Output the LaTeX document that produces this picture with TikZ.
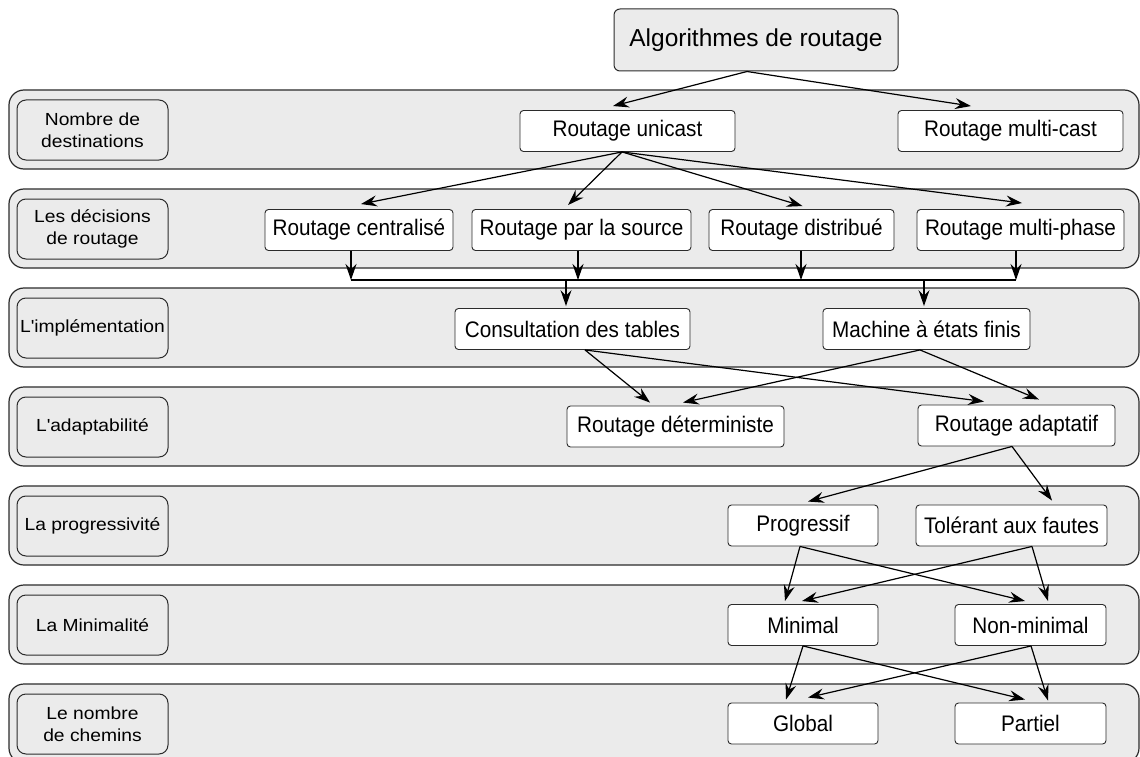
\documentclass[tikz,border=0pt]{standalone}
\usepackage{fontspec}
\setmainfont{Liberation Sans}
\newfontfamily\boxfont[FakeStretch=0.92]{Liberation Sans}
\newfontfamily\tagfont[FakeStretch=1.1]{Liberation Sans}
\usetikzlibrary{arrows.meta}
\definecolor{bandfill}{HTML}{EBEBEB}
\definecolor{edge}{HTML}{2B2B2B}
\begin{document}
\begin{tikzpicture}[x=1pt,y=-1pt,
  band/.style={draw=edge, line width=1.2pt, fill=bandfill, rounded corners=15pt},
  tag/.style={draw=edge, line width=1pt, fill=bandfill, rounded corners=9pt,
    minimum width=151pt, minimum height=60pt, inner sep=0pt, align=center,
    font=\tagfont\fontsize{17.5}{22}\selectfont},
  item/.style={draw=edge, line width=0.9pt, fill=white, rounded corners=3.5pt,
    minimum height=41pt, inner sep=0pt, font=\boxfont\fontsize{22.5}{26}\selectfont},
  arr/.style={-{Stealth[length=16pt,width=11pt,inset=5.5pt]}, line width=1.2pt},
  link/.style={line width=1.2pt}
]
\useasboundingbox (0,0) rectangle (1140,757);
\clip (0,0) rectangle (1140,757);

% horizontal bands, one per classification criterion
\foreach \t in {90,189,288,387,486,585,684}
  \draw[band] (9,\t) rectangle (1139,\t+79);

% criterion labels on the left
\node[tag] (l1) at (92.5,130) {Nombre de\\destinations};
\node[tag] (l2) at (92.5,229) {Les décisions\\de routage};
\node[tag] (l3) at (92.5,328) {L\textquotesingle implémentation};
\node[tag] (l4) at (92.5,427) {L\textquotesingle adaptabilité};
\node[tag] (l5) at (92.5,526) {La progressivité};
\node[tag] (l6) at (92.5,625) {La Minimalité};
\node[tag] (l7) at (92.5,724) {Le nombre\\de chemins};

% root
\node[draw=edge, line width=1pt, fill=bandfill, rounded corners=6pt,
  minimum width=284pt, minimum height=62pt, inner sep=0pt,
  font=\fontsize{24.5}{28}\selectfont] (alg) at (756,40) {Algorithmes de routage};

% classes
\node[item, minimum width=215pt] (uni)    at (627.5,131) {Routage unicast};
\node[item, minimum width=225pt] (multi)  at (1010.5,131) {Routage multi-cast};
\node[item, minimum width=188pt] (cent)   at (359,230) {Routage centralisé};
\node[item, minimum width=219pt] (src)    at (581.5,230) {Routage par la source};
\node[item, minimum width=185pt] (dist)   at (801.5,230) {Routage distribué};
\node[item, minimum width=207pt] (mph)    at (1020.5,230) {Routage multi-phase};
\node[item, minimum width=235pt] (cons)   at (572.5,329) {Consultation des tables};
\node[item, minimum width=207pt] (mach)   at (926.5,329) {Machine à états finis};
\node[item, minimum width=217pt] (det)    at (675.5,426.5) {Routage déterministe};
\node[item, minimum width=197pt] (adap)   at (1016.5,425.5) {Routage adaptatif};
\node[item, minimum width=150pt] (prog)   at (803,525.5) {Progressif};
\node[item, minimum width=191pt] (tol)    at (1011.5,525.5) {Tolérant aux fautes};
\node[item, minimum width=150pt] (mini)   at (803,625) {Minimal};
\node[item, minimum width=151pt] (nonmin) at (1030.5,625) {Non-minimal};
\node[item, minimum width=150pt] (glob)   at (803,723.5) {Global};
\node[item, minimum width=151pt] (part)   at (1030.5,723.5) {Partiel};

% root to destinations
\draw[arr] ([xshift=-9pt]alg.south) -- ([xshift=-14.5pt,yshift=4pt]uni.north);
\draw[arr] ([xshift=-9pt]alg.south) -- ([xshift=-39.5pt,yshift=4pt]multi.north);

% unicast to routing decisions
\draw[arr] ([xshift=-5.5pt]uni.south) -- ([xshift=2pt,yshift=5pt]cent.north);
\draw[arr] ([xshift=-5.5pt]uni.south) -- ([xshift=-13.5pt,yshift=4pt]src.north);
\draw[arr] ([xshift=-5.5pt]uni.south) -- ([xshift=1pt,yshift=3pt]dist.north);
\draw[arr] ([xshift=-5.5pt]uni.south) -- ([xshift=1.5pt,yshift=6pt]mph.north);

% collecting bus between decisions and implementation
\coordinate (busy) at (0,280);
\coordinate (bl) at ([xshift=-8pt]cent.south |- busy);
\coordinate (br) at ([xshift=-4.5pt]mph.south |- busy);
\draw[arr] ([xshift=-8pt]cent.south) -- (bl);
\draw[arr] ([xshift=-3.5pt]src.south) -- ([xshift=-3.5pt]src.south |- busy);
\draw[arr] ([xshift=-0.5pt]dist.south) -- ([xshift=-0.5pt]dist.south |- busy);
\draw[arr] ([xshift=-4.5pt]mph.south) -- (br);
\draw[link] (bl) -- (br);
\draw[arr] ([xshift=-6.5pt]cons.north |- busy) -- ([xshift=-6.5pt,yshift=2pt]cons.north);
\draw[arr] ([xshift=-2.5pt]mach.north |- busy) -- ([xshift=-2.5pt,yshift=2pt]mach.north);

% implementation to adaptivity
\draw[arr] ([xshift=12.5pt]cons.south) -- ([xshift=-25.5pt,yshift=3pt]det.north);
\draw[arr] ([xshift=12.5pt]cons.south) -- ([xshift=-32.5pt,yshift=3pt]adap.north);
\draw[arr] ([xshift=-6.5pt]mach.south) -- ([xshift=7.5pt,yshift=3pt]det.north);
\draw[arr] ([xshift=-6.5pt]mach.south) -- ([xshift=22.5pt,yshift=5pt]adap.north);

% adaptive to progressiveness
\draw[arr] ([xshift=-4.5pt]adap.south) -- ([xshift=5pt,yshift=3pt]prog.north);
\draw[arr] ([xshift=-4.5pt]adap.south) -- ([xshift=40.5pt,yshift=4pt]tol.north);

% progressiveness to minimality
\draw[arr] ([xshift=-3pt]prog.south) -- ([xshift=-18pt,yshift=3pt]mini.north);
\draw[arr] ([xshift=-3pt]prog.south) -- ([xshift=-5.5pt,yshift=3pt]nonmin.north);
\draw[arr] ([xshift=20.5pt]tol.south) -- ([xshift=-1pt,yshift=3pt]mini.north);
\draw[arr] ([xshift=20.5pt]tol.south) -- ([xshift=17.5pt,yshift=3pt]nonmin.north);

% minimality to number of paths
\draw[arr] (mini.south) -- ([xshift=-17pt,yshift=3pt]glob.north);
\draw[arr] (mini.south) -- ([xshift=-5.5pt,yshift=3pt]part.north);
\draw[arr] ([xshift=0.5pt]nonmin.south) -- ([xshift=5pt,yshift=5pt]glob.north);
\draw[arr] ([xshift=0.5pt]nonmin.south) -- ([xshift=17.5pt,yshift=2pt]part.north);
\end{tikzpicture}
\end{document}
